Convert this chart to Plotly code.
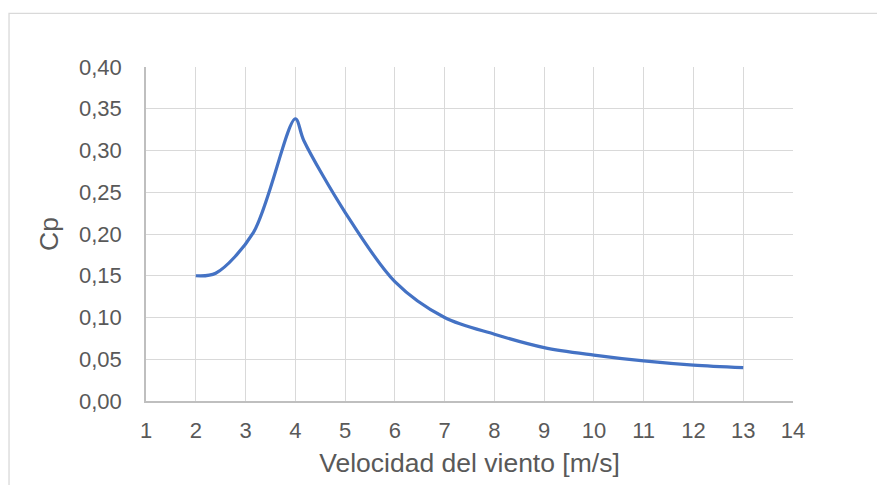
import plotly.graph_objects as go

# Wind speed [m/s] and power coefficient Cp
velocidad = [2.0, 2.4, 3.16, 4.0, 4.17, 5.0, 6.0, 7.0, 8.0, 9.0, 10.0, 11.0, 12.0, 13.0]
cp = [0.150, 0.153, 0.202, 0.338, 0.312, 0.226, 0.143, 0.100, 0.080, 0.064, 0.055, 0.048, 0.043, 0.040]

x_ticks = list(range(1, 15))
y_ticks = [0.00, 0.05, 0.10, 0.15, 0.20, 0.25, 0.30, 0.35, 0.40]

text_color = "#595959"
grid_color = "#d9d9d9"
font_family = "Liberation Sans, Arial, sans-serif"

fig = go.Figure()
fig.add_trace(go.Scatter(
    x=velocidad, y=cp, mode="lines",
    line=dict(color="#4472C4", width=3.2, shape="spline", smoothing=0.9),
    showlegend=False, hoverinfo="x+y",
))

fig.update_layout(
    width=877, height=485,
    margin=dict(l=146, r=84, t=67, b=82),
    paper_bgcolor="white", plot_bgcolor="white",
    separators=",.",
    font=dict(family=font_family, color=text_color, size=22),
    xaxis=dict(
        range=[1, 14], tickvals=x_ticks, ticktext=[str(v) for v in x_ticks],
        showgrid=True, gridcolor=grid_color, gridwidth=1.4,
        showline=True, linecolor="#bfbfbf", linewidth=1.5,
        zeroline=False, ticks="", ticklabelstandoff=9,
        tickfont=dict(size=22, color=text_color),
        title=dict(text="Velocidad del viento [m/s]", standoff=11,
                   font=dict(size=26.5, color=text_color)),
    ),
    yaxis=dict(
        range=[0, 0.40], tickvals=y_ticks, tickformat=".2f",
        showgrid=True, gridcolor=grid_color, gridwidth=1.4,
        showline=True, linecolor="#bfbfbf", linewidth=1.5,
        zeroline=False, ticks="", ticklabelstandoff=18,
        tickfont=dict(size=22, color=text_color),
        title=dict(text="Cp", standoff=13, font=dict(size=26.5, color=text_color)),
    ),
    shapes=[dict(
        type="rect", xref="paper", yref="paper",
        x0=-0.2117, x1=1.14, y0=-0.3, y1=1.1607,
        line=dict(color=grid_color, width=1.3), fillcolor="rgba(0,0,0,0)",
        layer="below",
    )],
)

fig.write_html("out.html")
